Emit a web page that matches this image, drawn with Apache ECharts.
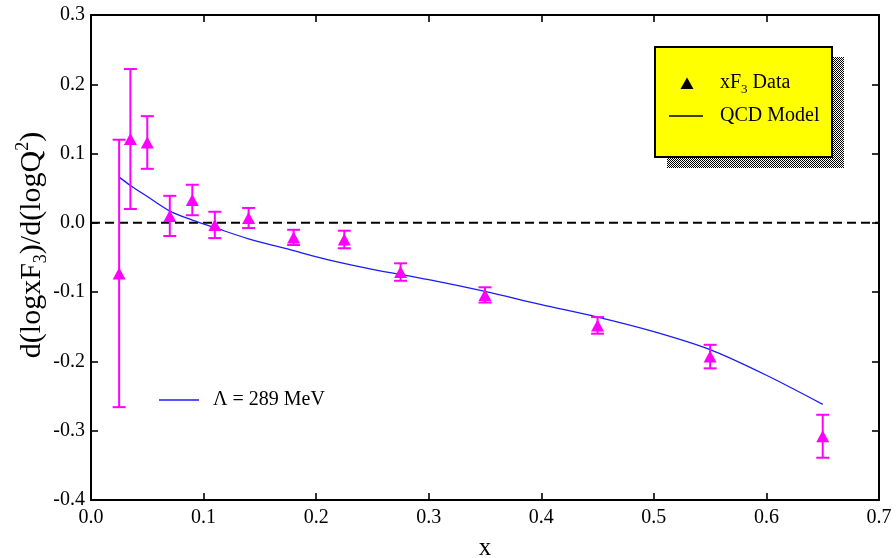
<!DOCTYPE html>
<html>
<head>
<meta charset="utf-8">
<script src="https://cdn.jsdelivr.net/npm/echarts@6/dist/echarts.min.js"></script>
<style>
  html, body { margin: 0; padding: 0; background: #fff; }
  #chart { width: 896px; height: 558px; }
</style>
</head>
<body>
<div id="chart"></div>
<script>
// Measured logarithmic slope of xF3 versus x, with statistical errors
const dataX   = [0.025, 0.035, 0.05, 0.07, 0.09, 0.11, 0.14, 0.18, 0.225, 0.275, 0.35, 0.45, 0.55, 0.65];
const dataY   = [-0.073, 0.121, 0.116, 0.010, 0.033, -0.003, 0.007, -0.021, -0.024, -0.071, -0.104, -0.148, -0.193, -0.308];
const dataErr = [0.193, 0.101, 0.038, 0.029, 0.022, 0.019, 0.0145, 0.011, 0.0127, 0.0126, 0.011, 0.012, 0.017, 0.031];

// QCD model prediction (Lambda = 289 MeV)
const modelX = [0.025, 0.035, 0.05, 0.07, 0.09, 0.11, 0.14, 0.18, 0.21, 0.25, 0.30, 0.35, 0.40, 0.45, 0.50, 0.55, 0.60, 0.65];
const modelY = [0.066, 0.054, 0.038, 0.017, 0.004, -0.007, -0.023, -0.040, -0.053, -0.067, -0.082, -0.099, -0.118, -0.136, -0.157, -0.183, -0.220, -0.262];

// Axis ranges and ticks
const xTicks = { min: 0.0, max: 0.7, step: 0.1 };
const yTicks = { min: -0.4, max: 0.3, step: 0.1 };

const FONT = '"Liberation Serif", "Times New Roman", serif';
const MAGENTA = '#ff00ff';

const chart = echarts.init(document.getElementById('chart'), null, { renderer: 'canvas' });

// stippled shadow pattern for the legend box
const pat = document.createElement('canvas');
pat.width = 2; pat.height = 2;
const pctx = pat.getContext('2d');
pctx.fillStyle = '#ffffff'; pctx.fillRect(0, 0, 2, 2);
pctx.fillStyle = '#000000'; pctx.fillRect(0, 0, 1, 1); pctx.fillRect(1, 1, 1, 1);

const points = dataX.map((x, i) => [x, dataY[i]]);
const bars = dataX.map((x, i) => [x, dataY[i] - dataErr[i], dataY[i] + dataErr[i]]);
const model = modelX.map((x, i) => [x, modelY[i]]);

function baseAxis(extra) {
  return Object.assign({
    type: 'value',
    splitLine: { show: false },
    axisLine: { show: true, onZero: false, lineStyle: { color: '#000', width: 2 } },
    axisTick: { show: true, inside: true, length: 7, lineStyle: { color: '#000', width: 1.6 } },
    axisLabel: {
      show: true, color: '#000', fontFamily: FONT, fontSize: 20,
      formatter: v => v.toFixed(1)
    }
  }, extra);
}

const option = {
  animation: false,
  backgroundColor: '#fff',
  grid: { left: 91, right: 17, top: 15, bottom: 58, containLabel: false, outerBoundsMode: 'none' },
  xAxis: [
    baseAxis({
      position: 'bottom', min: xTicks.min, max: xTicks.max, interval: xTicks.step,
      name: 'x', nameLocation: 'middle', nameGap: 36,
      nameTextStyle: { color: '#000', fontFamily: FONT, fontSize: 25 },
      axisLabel: { color: '#000', fontFamily: FONT, fontSize: 20, margin: 8, formatter: v => v.toFixed(1) }
    }),
    baseAxis({
      position: 'top', min: xTicks.min, max: xTicks.max, interval: xTicks.step,
      axisLabel: { show: false }
    })
  ],
  yAxis: [
    baseAxis({
      position: 'left', min: yTicks.min, max: yTicks.max, interval: yTicks.step,
      axisLabel: { color: '#000', fontFamily: FONT, fontSize: 20, margin: 6, formatter: v => v.toFixed(1) }
    }),
    baseAxis({
      position: 'right', min: yTicks.min, max: yTicks.max, interval: yTicks.step,
      axisLabel: { show: false }
    })
  ],
  graphic: [
    // y-axis title
    {
      type: 'text', x: 32, y: 245, rotation: Math.PI / 2, z: 100,
      style: {
        text: '{a|d(logxF}{s|3}{a|)/d(logQ}{p|2}{a|)}',
        align: 'center', verticalAlign: 'middle',
        rich: {
          a: { fontFamily: FONT, fontSize: 30, lineHeight: 36, verticalAlign: 'middle', fill: '#000' },
          s: { fontFamily: FONT, fontSize: 18, lineHeight: 19, verticalAlign: 'bottom', fill: '#000' },
          p: { fontFamily: FONT, fontSize: 18, lineHeight: 19, verticalAlign: 'top', fill: '#000' }
        }
      }
    },
    // legend box with stippled shadow
    {
      type: 'rect', shape: { x: 667, y: 57, width: 177, height: 111 }, z: 100,
      style: { fill: { image: pat, repeat: 'repeat' } }
    },
    {
      type: 'rect', shape: { x: 655, y: 47, width: 177, height: 110 }, z: 101,
      style: { fill: '#ffff00', stroke: '#000', lineWidth: 2 }
    },
    {
      type: 'polygon', z: 102,
      shape: { points: [[680.5, 89], [693.5, 89], [687, 77.5]] },
      style: { fill: '#000' }
    },
    {
      type: 'text', x: 720, y: 83, z: 102,
      style: {
        text: '{a|xF}{s|3}{a| Data}',
        align: 'left', verticalAlign: 'middle',
        rich: {
          a: { fontFamily: FONT, fontSize: 20, lineHeight: 26, verticalAlign: 'middle', fill: '#000' },
          s: { fontFamily: FONT, fontSize: 13, lineHeight: 14, verticalAlign: 'bottom', fill: '#000' }
        }
      }
    },
    {
      type: 'line', z: 102,
      shape: { x1: 669, y1: 116, x2: 703, y2: 116 },
      style: { stroke: '#000', lineWidth: 1.6 }
    },
    {
      type: 'text', x: 720, y: 116, z: 102,
      style: { text: 'QCD Model', fontFamily: FONT, fontSize: 20, fill: '#000', align: 'left', verticalAlign: 'middle' }
    },
    // model parameter label
    {
      type: 'line', z: 102,
      shape: { x1: 159, y1: 400, x2: 199, y2: 400 },
      style: { stroke: '#1a1aff', lineWidth: 1.6 }
    },
    {
      type: 'text', x: 213, y: 400, z: 102,
      style: { text: 'Λ = 289 MeV', fontFamily: FONT, fontSize: 20, fill: '#000', align: 'left', verticalAlign: 'middle' }
    }
  ],
  series: [
    {
      name: 'zero',
      type: 'line',
      data: [[xTicks.min, 0], [xTicks.max, 0]],
      symbol: 'none',
      silent: true,
      lineStyle: { color: '#000', width: 2, type: [9, 5] },
      z: 1
    },
    {
      name: 'QCD Model',
      type: 'line',
      data: model,
      symbol: 'none',
      smooth: 0.3,
      lineStyle: { color: '#1a1aff', width: 1.3 },
      z: 2
    },
    {
      name: 'errors',
      type: 'custom',
      data: bars,
      encode: { x: 0, y: [1, 2] },
      z: 3,
      renderItem: function (params, api) {
        const x = api.value(0);
        const lo = api.coord([x, api.value(1)]);
        const hi = api.coord([x, api.value(2)]);
        const hw = 6.5;
        const style = { stroke: MAGENTA, lineWidth: 2 };
        return {
          type: 'group',
          children: [
            { type: 'line', shape: { x1: lo[0], y1: lo[1], x2: hi[0], y2: hi[1] }, style: style },
            { type: 'line', shape: { x1: lo[0] - hw, y1: lo[1], x2: lo[0] + hw, y2: lo[1] }, style: style },
            { type: 'line', shape: { x1: hi[0] - hw, y1: hi[1], x2: hi[0] + hw, y2: hi[1] }, style: style }
          ]
        };
      }
    },
    {
      name: 'xF3 Data',
      type: 'scatter',
      data: points,
      symbol: 'triangle',
      symbolSize: [13, 12],
      itemStyle: { color: MAGENTA, opacity: 1 },
      z: 4
    }
  ]
};

chart.setOption(option);
</script>
</body>
</html>
